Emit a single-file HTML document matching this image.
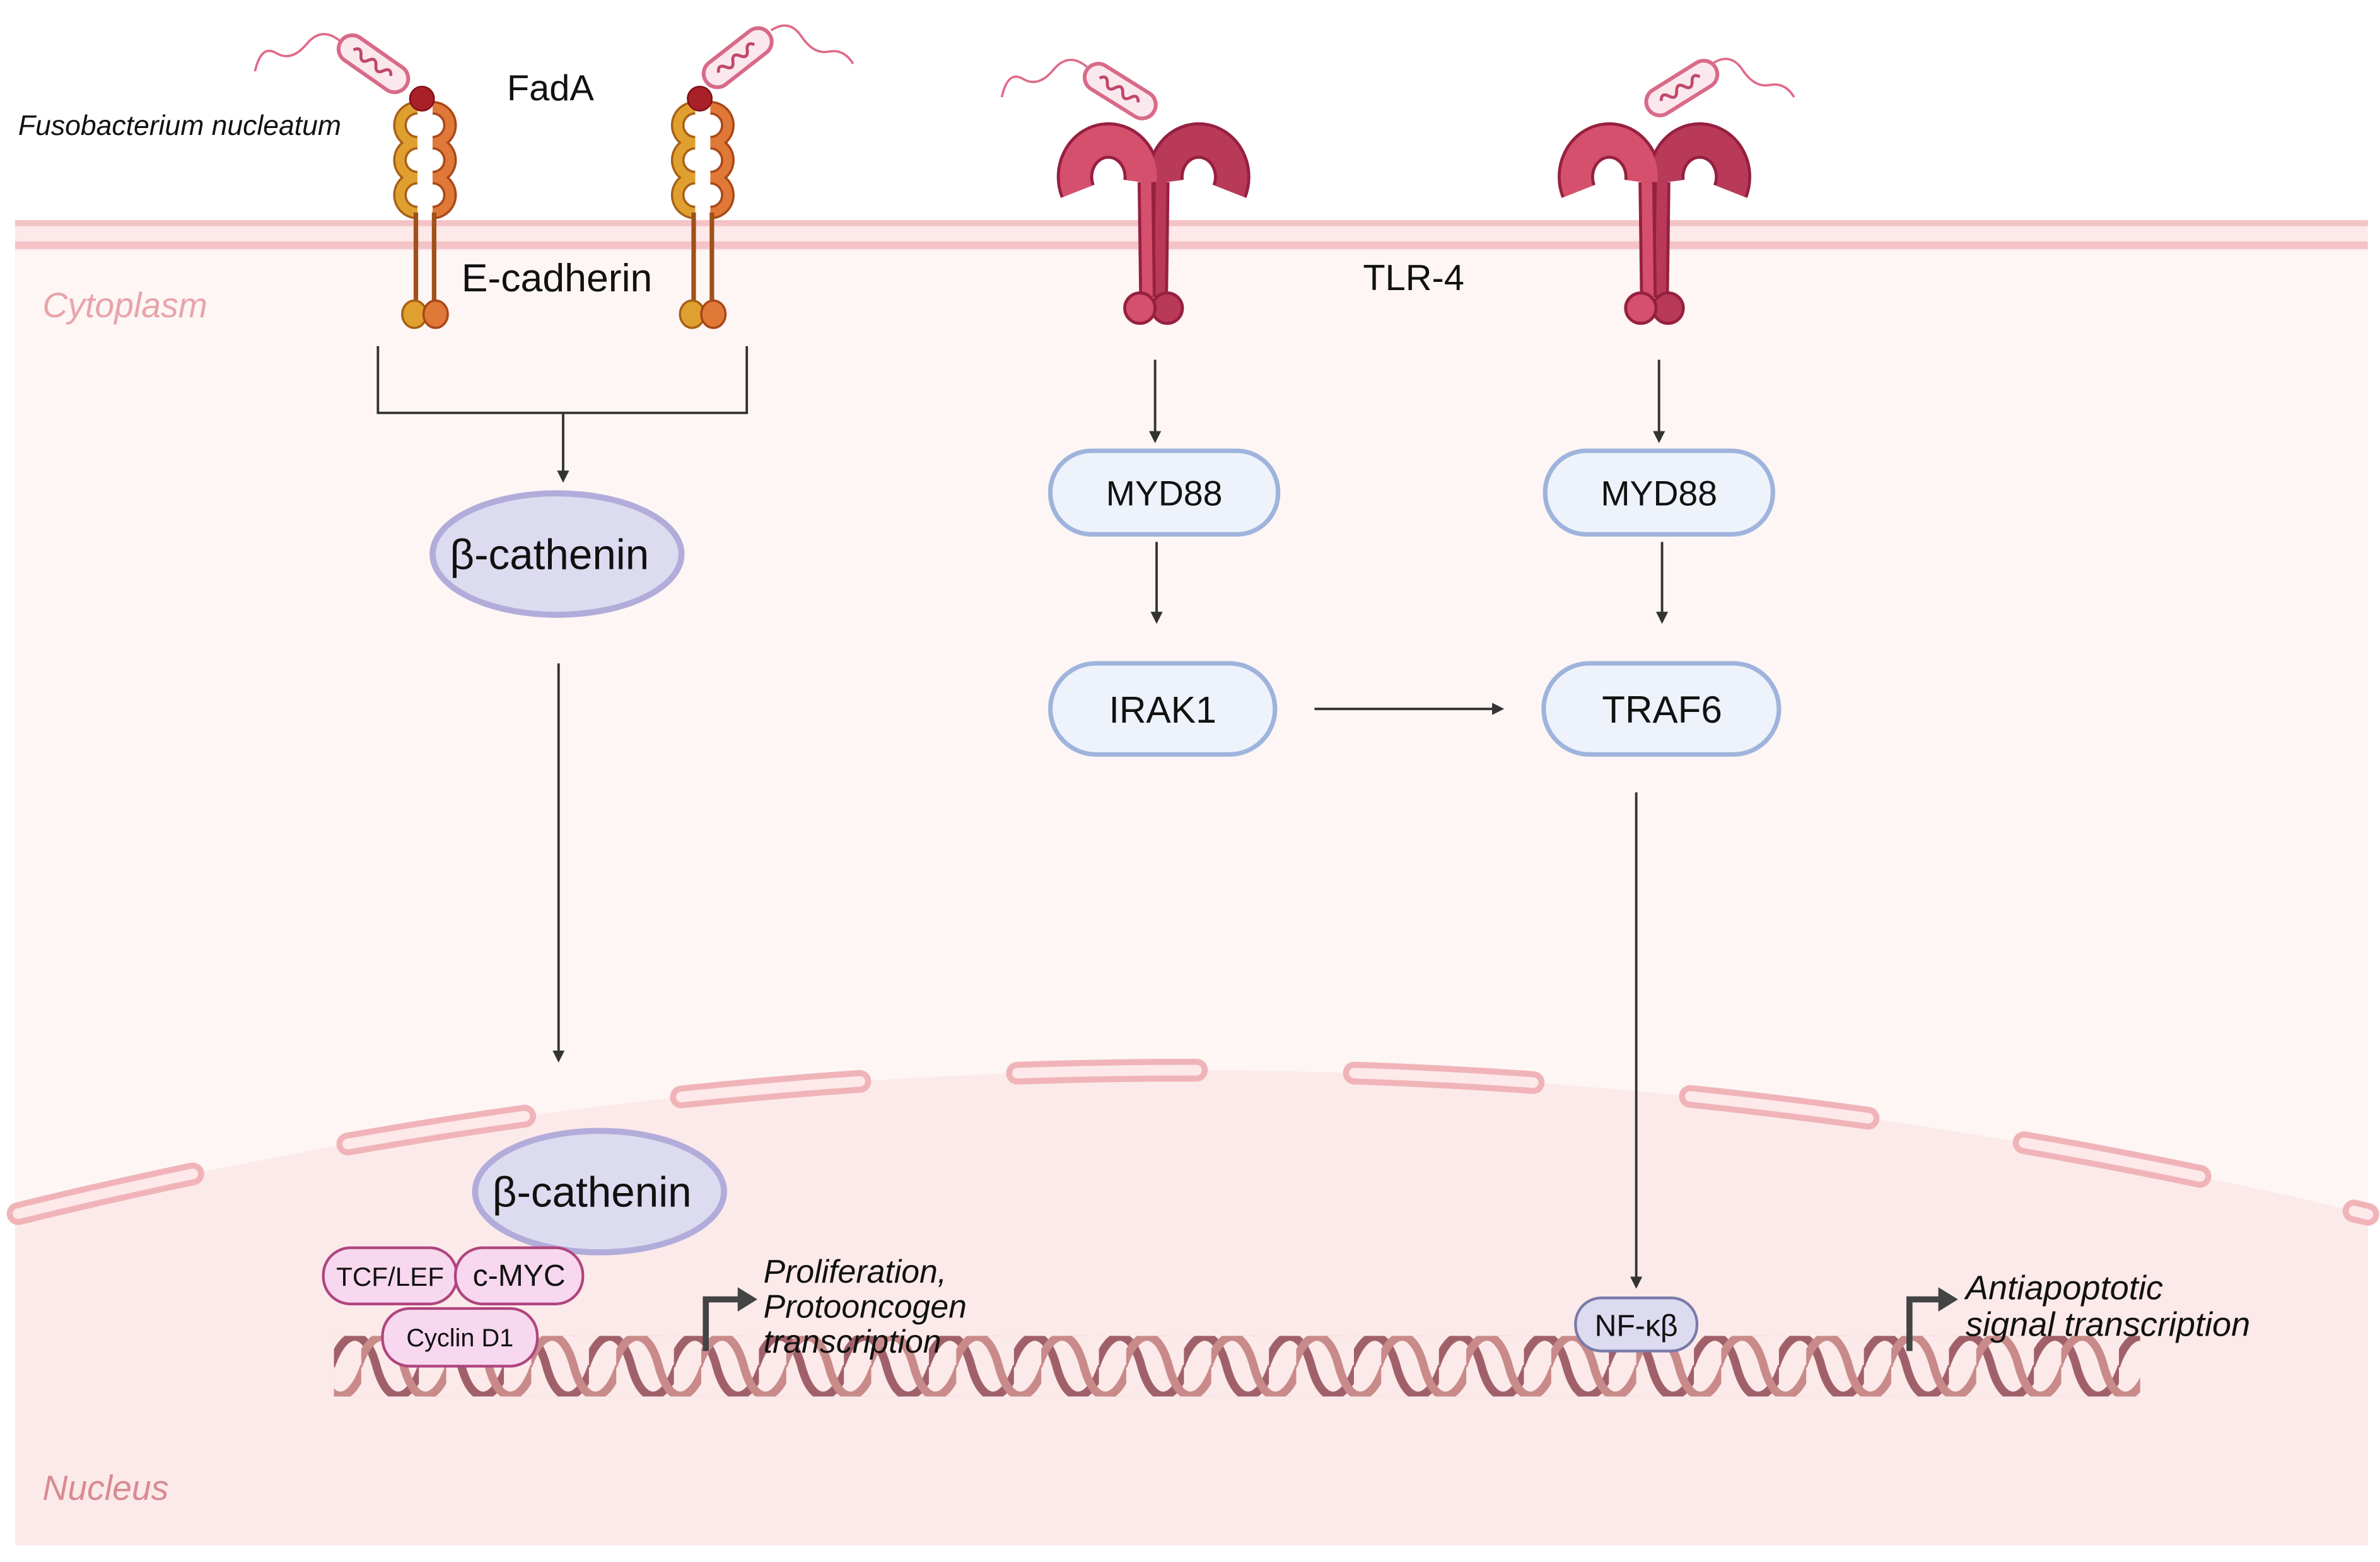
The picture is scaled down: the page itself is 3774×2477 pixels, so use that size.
<!DOCTYPE html>
<html><head><meta charset="utf-8">
<style>
html,body{margin:0;padding:0;background:#fff;}
svg{display:block;}
text{font-family:"Liberation Sans",sans-serif;}
</style></head>
<body>
<svg width="3774" height="2477" viewBox="0 0 1568 1029" preserveAspectRatio="none" xmlns="http://www.w3.org/2000/svg">
<defs>
<marker id="ah" markerWidth="8" markerHeight="8" refX="6" refY="4" orient="auto" markerUnits="userSpaceOnUse">
<path d="M0,0 L8,4 L0,8 Z" fill="#333"/>
</marker>
<pattern id="dnaA" x="220" y="880" width="56" height="40" patternUnits="userSpaceOnUse">
<path d="M-2,20 C7,-6 21,-6 28,20 S49,46 58,20" fill="none" stroke="#a0606a" stroke-width="5.5"/>
</pattern>
<pattern id="dnaB" x="238" y="880" width="56" height="40" patternUnits="userSpaceOnUse">
<path d="M-2,20 C7,-6 21,-6 28,20 S49,46 58,20" fill="none" stroke="#c98a8a" stroke-width="5.5"/>
</pattern>
<g id="tlr">
<path d="M-50,126 A22,24 0 1 1 -8,120" fill="none" stroke="#962040" stroke-width="24"/>
<path d="M50,126 A22,24 0 1 0 8,120" fill="none" stroke="#962040" stroke-width="24"/>
<path d="M50,126 A22,24 0 1 0 8,120" fill="none" stroke="#b83a58" stroke-width="20"/>
<path d="M-50,126 A22,24 0 1 1 -8,120" fill="none" stroke="#d4506c" stroke-width="20"/>
<path d="M5,120 L4,196" stroke="#962040" stroke-width="11"/>
<path d="M5,120 L4,196" stroke="#b83a58" stroke-width="7"/>
<path d="M-5,120 L-4,196" stroke="#962040" stroke-width="11"/>
<path d="M-5,120 L-4,196" stroke="#d4506c" stroke-width="7"/>
<circle cx="9" cy="203" r="10" fill="#b83a58" stroke="#962040" stroke-width="2"/>
<circle cx="-9" cy="203" r="10" fill="#d4506c" stroke="#962040" stroke-width="2"/>
</g>
<g id="cad">
<g fill="none" stroke-width="9">
<path d="M-5,71 A11.5,11.5 0 1 0 -5,94 A11.5,11.5 0 1 0 -5,117 A11.5,11.5 0 1 0 -5,140" stroke="#a86018"/>
<path d="M5,71 A11.5,11.5 0 1 1 5,94 A11.5,11.5 0 1 1 5,117 A11.5,11.5 0 1 1 5,140" stroke="#a84818"/>
<path d="M-5,71 A11.5,11.5 0 1 0 -5,94 A11.5,11.5 0 1 0 -5,117 A11.5,11.5 0 1 0 -5,140" stroke="#e0a030" stroke-width="6"/>
<path d="M5,71 A11.5,11.5 0 1 1 5,94 A11.5,11.5 0 1 1 5,117 A11.5,11.5 0 1 1 5,140" stroke="#e07838" stroke-width="6"/>
</g>
<path d="M-6,140 L-6,198" stroke="#a05018" stroke-width="3"/>
<path d="M6,140 L6,198" stroke="#a05018" stroke-width="3"/>
<ellipse cx="-7" cy="207" rx="8" ry="9" fill="#e0a030" stroke="#a86018" stroke-width="1.5"/>
<ellipse cx="7" cy="207" rx="8" ry="9" fill="#e07838" stroke="#a84818" stroke-width="1.5"/>
</g>
<g id="bac">
<rect x="-26" y="-9" width="52" height="18" rx="9" fill="#fbe8ee" stroke="#d86a88" stroke-width="2.5"/>
<path d="M-16,0 q3,-5 6,0 t6,0 t6,0 t6,0 t6,0" fill="none" stroke="#c04868" stroke-width="2"/>
</g>
</defs>

<rect x="10" y="163" width="1550" height="855" fill="#fdf6f5"/>
<path d="M10,800 Q780,610 1560,800 L1560,1018 L10,1018 Z" fill="#fceaea"/>
<rect x="10" y="145" width="1550" height="20" fill="#fde8ea"/>
<rect x="10" y="145" width="1550" height="4" fill="#f3c3c6"/>
<rect x="10" y="159" width="1550" height="5" fill="#f3c3c6"/>
<path d="M10,800 Q780,610 1560,800" fill="none" stroke="#f0b4b8" stroke-width="15" stroke-linecap="round" stroke-dasharray="118 104" stroke-dashoffset="-2"/>
<path d="M10,800 Q780,610 1560,800" fill="none" stroke="#fde8ea" stroke-width="7" stroke-linecap="round" stroke-dasharray="118 104" stroke-dashoffset="-2"/>

<text x="28" y="209" font-size="23" font-style="italic" fill="#e8a4aa">Cytoplasm</text>
<text x="28" y="988" font-size="23" font-style="italic" fill="#d88a92">Nucleus</text>

<g transform="translate(246,42) rotate(35)"><use href="#bac"/></g>
<path d="M224,27 q-12,-10 -22,2 t-20,6 t-14,12" fill="none" stroke="#e06a88" stroke-width="1.5"/>
<g transform="translate(486,38) rotate(-38)"><use href="#bac"/></g>
<path d="M508,20 q12,-8 20,4 t18,10 t16,8" fill="none" stroke="#e06a88" stroke-width="1.5"/>
<g transform="translate(738,60) rotate(32)"><use href="#bac"/></g>
<path d="M716,44 q-12,-10 -22,2 t-20,6 t-14,12" fill="none" stroke="#e06a88" stroke-width="1.5"/>
<g transform="translate(1108,58) rotate(-32)"><use href="#bac"/></g>
<path d="M1128,42 q12,-8 20,4 t18,10 t16,8" fill="none" stroke="#e06a88" stroke-width="1.5"/>

<g transform="translate(280,0)"><use href="#cad"/></g>
<g transform="translate(463,0)"><use href="#cad"/></g>
<circle cx="278" cy="65" r="8" fill="#a82028" stroke="#801018" stroke-width="1"/>
<circle cx="461" cy="65" r="8" fill="#a82028" stroke="#801018" stroke-width="1"/>

<g transform="translate(760,0)"><use href="#tlr"/></g>
<g transform="translate(1090,0)"><use href="#tlr"/></g>

<text x="12" y="89" font-size="18.5" font-style="italic" fill="#111">Fusobacterium nucleatum</text>
<text x="334" y="66" font-size="24" fill="#111">FadA</text>
<text x="304" y="192" font-size="26" fill="#111">E-cadherin</text>
<text x="898" y="191" font-size="24" fill="#111">TLR-4</text>

<path d="M249,228 L249,272 L492,272 L492,228" fill="none" stroke="#333" stroke-width="1.6"/>
<line x1="371" y1="272" x2="371" y2="316" stroke="#333" stroke-width="1.6" marker-end="url(#ah)"/>

<ellipse cx="367" cy="365" rx="82" ry="40" fill="#dcdbf0" stroke="#b2acda" stroke-width="4"/>
<text x="362" y="375" font-size="28" text-anchor="middle" fill="#111">β-cathenin</text>
<line x1="368" y1="437" x2="368" y2="698" stroke="#333" stroke-width="1.6" marker-end="url(#ah)"/>
<ellipse cx="395" cy="785" rx="82" ry="40" fill="#dcdbf0" stroke="#b2acda" stroke-width="4"/>
<text x="390" y="795" font-size="28" text-anchor="middle" fill="#111">β-cathenin</text>

<rect x="220" y="880" width="1190" height="40" fill="url(#dnaA)"/>
<rect x="220" y="880" width="1190" height="40" fill="url(#dnaB)"/>

<rect x="213" y="822" width="88" height="37" rx="18" fill="#f8d8ee" stroke="#b0457f" stroke-width="1.8"/>
<rect x="300" y="822" width="84" height="37" rx="18" fill="#f8d8ee" stroke="#b0457f" stroke-width="1.8"/>
<rect x="252" y="862" width="102" height="38" rx="18" fill="#f8d8ee" stroke="#b0457f" stroke-width="1.8"/>
<text x="257" y="847" font-size="17.5" text-anchor="middle" fill="#111">TCF/LEF</text>
<text x="342" y="847" font-size="20" text-anchor="middle" fill="#111">c-MYC</text>
<text x="303" y="887" font-size="16.5" text-anchor="middle" fill="#111">Cyclin D1</text>

<path d="M465,890 L465,856 L487,856" fill="none" stroke="#444" stroke-width="4"/>
<path d="M486,848 L499,856 L486,864 Z" fill="#444"/>
<text font-size="21.5" font-style="italic" fill="#111"><tspan x="503" y="845">Proliferation,</tspan><tspan x="503" y="868">Protooncogen</tspan><tspan x="503" y="891">transcription</tspan></text>

<line x1="761" y1="237" x2="761" y2="290" stroke="#333" stroke-width="1.6" marker-end="url(#ah)"/>
<rect x="692" y="297" width="150" height="55" rx="27" fill="#eef3fb" stroke="#9fb4dc" stroke-width="3"/>
<text x="767" y="333" font-size="23" text-anchor="middle" fill="#111">MYD88</text>
<line x1="762" y1="357" x2="762" y2="409" stroke="#333" stroke-width="1.6" marker-end="url(#ah)"/>
<rect x="692" y="437" width="148" height="60" rx="30" fill="#eef3fb" stroke="#9fb4dc" stroke-width="3"/>
<text x="766" y="476" font-size="24.5" text-anchor="middle" fill="#111">IRAK1</text>
<line x1="866" y1="467" x2="989" y2="467" stroke="#333" stroke-width="1.6" marker-end="url(#ah)"/>

<line x1="1093" y1="237" x2="1093" y2="290" stroke="#333" stroke-width="1.6" marker-end="url(#ah)"/>
<rect x="1018" y="297" width="150" height="55" rx="27" fill="#eef3fb" stroke="#9fb4dc" stroke-width="3"/>
<text x="1093" y="333" font-size="23" text-anchor="middle" fill="#111">MYD88</text>
<line x1="1095" y1="357" x2="1095" y2="409" stroke="#333" stroke-width="1.6" marker-end="url(#ah)"/>
<rect x="1017" y="437" width="155" height="60" rx="30" fill="#eef3fb" stroke="#9fb4dc" stroke-width="3"/>
<text x="1095" y="476" font-size="25" text-anchor="middle" fill="#111">TRAF6</text>
<line x1="1078" y1="522" x2="1078" y2="847" stroke="#333" stroke-width="1.6" marker-end="url(#ah)"/>
<rect x="1038" y="855" width="80" height="35" rx="17" fill="#dcdbf0" stroke="#7a7aaa" stroke-width="1.8"/>
<text x="1078" y="880" font-size="20" text-anchor="middle" fill="#111">NF-κβ</text>

<path d="M1258,890 L1258,856 L1278,856" fill="none" stroke="#444" stroke-width="4"/>
<path d="M1277,848 L1290,856 L1277,864 Z" fill="#444"/>
<text font-size="22.5" font-style="italic" fill="#111"><tspan x="1295" y="856">Antiapoptotic</tspan><tspan x="1295" y="880">signal transcription</tspan></text>
</svg>
</body></html>
